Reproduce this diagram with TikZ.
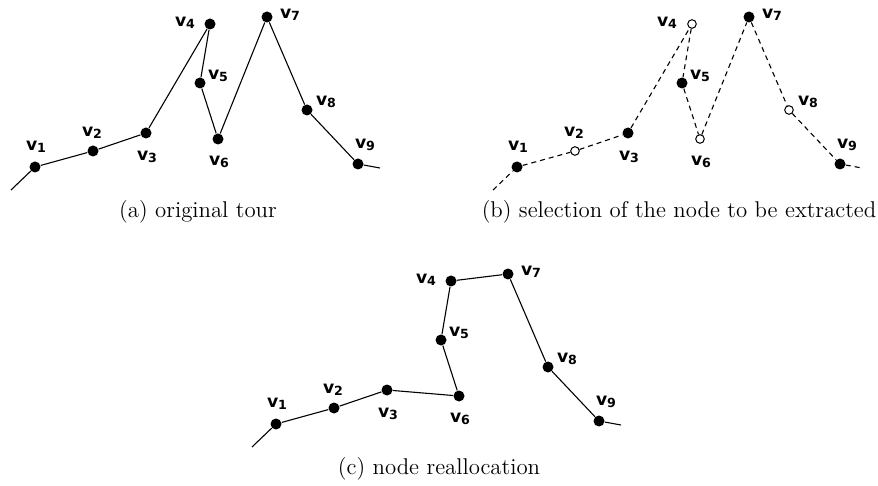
\documentclass[tikz,border=0pt]{standalone}
\usepackage{fontspec}
\usetikzlibrary{positioning}
\newfontfamily\vfont{DejaVu Sans Bold}
\newcommand{\vname}[1]{v\raisebox{-1.1pt}{\fontsize{6.3}{7}\selectfont #1}}
% node positions (px), label offset
\def\tour{1/35/167/1/-20, 2/93/151/-1/-18, 3/146/133/1/24, 4/210/24/-25/-1, 5/200/83/18/-7, 6/218/139/1/23, 7/267/17/23/-2, 8/307/110/19/-8, 9/358/164/7/-19}

\begin{document}
\begin{tikzpicture}[
    x=0.5pt, y=-0.5pt,
    dot/.style={circle, fill=black, inner sep=0pt, minimum size=5.5pt},
    hollow/.style={circle, draw=black, fill=white, line width=0.5pt, inner sep=0pt, minimum size=4.3pt},
    lab/.style={font=\vfont\fontsize{8.6}{9}\selectfont, inner sep=0pt},
    edge/.style={line width=0.55pt},
    subcap/.style={font=\fontsize{11.4}{13}\selectfont}
]
\useasboundingbox (0,0) rectangle (878,486);

% (a) original tour
\begin{scope}
\coordinate (a0) at (11,190);
\coordinate (a10) at (380,168);
\foreach \i/\x/\y/\dx/\dy in \tour {
    \node[dot] (a\i) at (\x,\y) {};
    \node[lab] (la\i) at ({\x+\dx},{\y+\dy}) {\vname{\i}};
}
\draw[edge] (a0) -- (a1) -- (a2) -- (a3) -- (a4) -- (a5) -- (a6) -- (a7) -- (a8) -- (a9) -- (a10);
\node[subcap] (capa) at (198,212) {(a)~original tour};
\end{scope}

% (b) selection
\begin{scope}[shift={(482,0)}]
\coordinate (b0) at (11,190);
\coordinate (b10) at (380,168);
\foreach \i/\x/\y/\dx/\dy in \tour {
    \ifodd\i \def\kind{dot}\else \def\kind{hollow}\fi
    \node[\kind] (b\i) at (\x,\y) {};
    \node[lab] (lb\i) at ({\x+\dx},{\y+\dy}) {\vname{\i}};
}
\draw[edge, dash pattern=on 2.5pt off 2pt] (b0) -- (b1) -- (b2) -- (b3) -- (b4) -- (b5) -- (b6) -- (b7) -- (b8) -- (b9) -- (b10);
\node[subcap] (capb) at (197,212) {(b)~selection of the node to be extracted};
\end{scope}

% (c) reallocation
\begin{scope}[shift={(241,257)}]
\coordinate (c0) at (11,190);
\coordinate (c10) at (380,168);
\foreach \i/\x/\y/\dx/\dy in \tour {
    \node[dot] (c\i) at (\x,\y) {};
    \node[lab] (lc\i) at ({\x+\dx},{\y+\dy}) {\vname{\i}};
}
\draw[edge] (c0) -- (c1) -- (c2) -- (c3) -- (c6) -- (c5) -- (c4) -- (c7) -- (c8) -- (c9) -- (c10);
\node[subcap] (capc) at (198,212) {(c)~node reallocation};
\end{scope}
\end{tikzpicture}
\end{document}
